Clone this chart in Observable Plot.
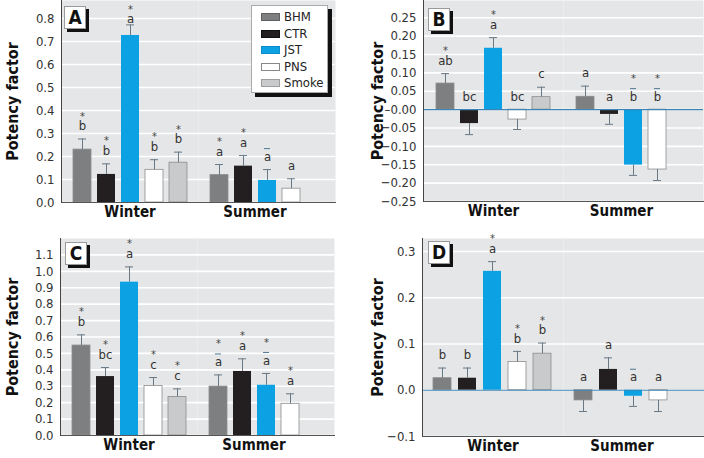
<!DOCTYPE html>
<html><head><meta charset="utf-8">
<script src="https://cdn.jsdelivr.net/npm/d3@7"></script>
<script src="https://cdn.jsdelivr.net/npm/@observablehq/plot@0.6"></script>
<style>
body{margin:0;background:#fff;}
#fig{position:relative;width:704px;height:458px;font-family:"Liberation Sans Narrow","Arial Narrow","DejaVu Sans Condensed",sans-serif;}
.panel{position:absolute;}
.tag{position:absolute;width:20px;height:21px;background:#fff;border:1px solid #9a9a9a;box-shadow:3px 3px 0 #111;font-weight:bold;font-size:19px;text-align:center;line-height:21px;color:#111;}
.legend{position:absolute;background:#fff;border:1px solid #aaa;box-shadow:4px 4px 0 #111;}
.legend .row{position:absolute;left:0;height:14px;font-size:13px;color:#222;}
.legend .sw{position:absolute;left:9px;top:3px;width:19px;height:8px;box-sizing:border-box;}
.legend .lb{position:absolute;left:32px;top:-1px;line-height:16px;}
g[aria-label="y-axis label"] text{font-weight:bold;font-size:16px;fill:#111;}
</style>
</head><body>
<div id="fig"></div>
<script>
const types = ["BHM", "CTR", "JST", "PNS", "Smoke"];
const seasons = ["Winter", "Summer"];
const colors = ["#7e7f81", "#231f20", "#0ba1e2", "#ffffff", "#c9cacc"];

// Panel A
const aWinter = [0.23, 0.122, 0.726, 0.142, 0.173];
const aWinterErr = [0.046, 0.046, 0.046, 0.044, 0.046];
const aWinterLbl = ["*b", "*b", "*a", "*b", "*b"];
const aSummer = [0.119, 0.158, 0.096, 0.06, null];
const aSummerErr = [0.046, 0.046, 0.047, 0.043, null];
const aSummerLbl = ["*a", "*a", "‾a", "a", ""];
const aTicks = [0, 0.1, 0.2, 0.3, 0.4, 0.5, 0.6, 0.7, 0.8];

// Panel B
const bWinter = [0.071, -0.038, 0.167, -0.027, 0.034];
const bWinterErr = [0.027, 0.030, 0.029, 0.027, 0.027];
const bWinterLbl = ["*ab", "bc", "*a", "bc", "c"];
const bSummer = [0.035, -0.013, -0.151, -0.163, null];
const bSummerErr = [0.029, 0.027, 0.028, 0.030, null];
const bSummerLbl = ["a", "a", "*‾b", "*‾b", ""];
const bTicks = [-0.25, -0.2, -0.15, -0.1, -0.05, 0, 0.05, 0.1, 0.15, 0.2, 0.25];

// Panel C
const cWinter = [0.548, 0.359, 0.934, 0.302, 0.235];
const cWinterErr = [0.065, 0.055, 0.093, 0.051, 0.049];
const cWinterLbl = ["*b", "*bc", "*a", "*c", "*c"];
const cSummer = [0.298, 0.39, 0.306, 0.193, null];
const cSummerErr = [0.071, 0.077, 0.072, 0.061, null];
const cSummerLbl = ["*‾a", "*a", "*‾a", "*a", ""];
const cTicks = [0, 0.1, 0.2, 0.3, 0.4, 0.5, 0.6, 0.7, 0.8, 0.9, 1.0, 1.1];

// Panel D
const dWinter = [0.026, 0.026, 0.257, 0.061, 0.079];
const dWinterErr = [0.022, 0.022, 0.021, 0.023, 0.023];
const dWinterLbl = ["b", "b", "*a", "*b", "*b"];
const dSummer = [-0.022, 0.045, -0.013, -0.022, null];
const dSummerErr = [0.024, 0.025, 0.022, 0.024, null];
const dSummerLbl = ["a", "a", "‾a", "a", ""];
const dTicks = [-0.1, 0, 0.1, 0.2, 0.3];

const FONT = '"Liberation Sans Narrow","Arial Narrow","DejaVu Sans Condensed",sans-serif';
const minus = s => s.replace("-", "\u2013");

function makeRows(w, we, wl, s, se, sl, top) {
  const rows = [];
  [[w, we, wl, "Winter"], [s, se, sl, "Summer"]].forEach(([vals, errs, lbls, season]) => {
    types.forEach((t, i) => {
      if (vals[i] == null) return;
      const v = vals[i], e = errs[i], l = lbls[i];
      const end = v >= 0 ? v + e : v - e;
      rows.push({season, type: t, value: v, end, anchor: Math.min(v >= 0 ? end : 0, top),
        star: l.includes("*"), bar: l.includes("‾"), letter: l.replace(/[*‾]/g, "")});
    });
  });
  return rows;
}

function panel(cfg) {
  const rows = makeRows(...cfg.data, cfg.labelTop);
  const fx = {fx: "season", x: "type"};
  const marks = [
    Plot.frame({fill: "#e5e6e7", stroke: "none"}),
    Plot.gridY(cfg.ticks, {stroke: "#fff", strokeOpacity: 1, strokeWidth: 1.6}),
    Plot.axisY(cfg.ticks, {tickSize: 0, tickPadding: 7, tickFormat: cfg.fmt, fontSize: 13, fill: "#333",
      label: "Potency factor", labelAnchor: "center", labelOffset: cfg.lo, labelArrow: "none"}),
    Plot.barY(rows, {...fx, y: "value", fill: "type"}),
    Plot.barY(rows.filter(d => d.type !== "JST" && d.type !== "CTR"), {...fx, y: "value", fill: "none", stroke: "#8c8c8c", strokeWidth: 0.8}),
    Plot.ruleX(rows, {...fx, y1: "value", y2: "end", stroke: "#687885", strokeWidth: 1}),
    Plot.tickY(rows, {...fx, y: "end", stroke: "#687885", strokeWidth: 1, insetLeft: 5, insetRight: 5}),
  ];
  if (cfg.zero) marks.push(Plot.ruleY([0], {stroke: "#3b84b4", strokeWidth: 1.2}));
  marks.push(
    Plot.frame({anchor: "bottom", stroke: "#555"}),
    Plot.frame({anchor: "left", stroke: "#444", fx: () => "Winter"}),
    Plot.text(rows, {...fx, y: "anchor", text: "letter", dy: -13, fontSize: 13, fill: "#333"}),
    Plot.tickY(rows.filter(d => d.bar), {...fx, y: "anchor", dy: -21, stroke: "#4f7896", strokeWidth: 1, insetLeft: 6, insetRight: 6}),
    Plot.text(rows.filter(d => d.star && !d.bar), {...fx, y: "anchor", text: () => "*", dy: -23, fontSize: 11, fill: "#444"}),
    Plot.text(rows.filter(d => d.star && d.bar), {...fx, y: "anchor", text: () => "*", dy: -31, fontSize: 11, fill: "#444"}),
    Plot.text(["Winter"], {fx: d => d, frameAnchor: "bottom", dy: 14, fontSize: 15, fontWeight: "bold", fill: "#111"}),
    Plot.text(["Summer"], {fx: d => d, frameAnchor: "bottom", dy: 14, dx: -12, fontSize: 15, fontWeight: "bold", fill: "#111"})
  );
  const svg = Plot.plot({
    width: cfg.w, height: cfg.h,
    marginTop: cfg.mt, marginBottom: cfg.mb, marginLeft: cfg.ml, marginRight: cfg.mr,
    style: {fontFamily: FONT, fontSize: "13px", background: "transparent", overflow: "visible"},
    fx: {domain: seasons, padding: 0, axis: null},
    x: {domain: types, paddingInner: 0.265, paddingOuter: 0.44, axis: null},
    y: {domain: cfg.domain},
    color: {domain: types, range: colors},
    marks
  });
  const div = document.createElement("div");
  div.className = "panel";
  div.style.left = cfg.left + "px";
  div.style.top = cfg.top + "px";
  div.appendChild(svg);
  document.getElementById("fig").appendChild(div);
}

panel({data: [aWinter, aWinterErr, aWinterLbl, aSummer, aSummerErr, aSummerLbl], ticks: aTicks, labelTop: 0.74,
  fmt: d3.format(".1f"), domain: [0, 0.878], left: 0, top: 0, w: 350, h: 225, ml: 60, mr: 15, mt: 0, mb: 23, lo: 55, zero: false});
panel({data: [bWinter, bWinterErr, bWinterLbl, bSummer, bSummerErr, bSummerLbl], ticks: bTicks, labelTop: 1,
  fmt: d => d === 0 ? "\u20130.00" : minus(d3.format(".2f")(d)), domain: [-0.25, 0.297], left: 350, top: 0, w: 354, h: 225, ml: 73, mr: 1, mt: 0, mb: 24, lo: 52, zero: true});
panel({data: [cWinter, cWinterErr, cWinterLbl, cSummer, cSummerErr, cSummerLbl], ticks: cTicks, labelTop: 2,
  fmt: d3.format(".1f"), domain: [0, 1.2], left: 0, top: 225, w: 350, h: 233, ml: 59, mr: 16, mt: 13, mb: 23, lo: 54, zero: false});
panel({data: [dWinter, dWinterErr, dWinterLbl, dSummer, dSummerErr, dSummerLbl], ticks: dTicks, labelTop: 1,
  fmt: d => minus(d3.format(".1f")(d)), domain: [-0.1, 0.328], left: 350, top: 225, w: 354, h: 233, ml: 72, mr: 0, mt: 13, mb: 22, lo: 51, zero: true});

// panel tags
const fig = document.getElementById("fig");
[["A", 64, 6], ["B", 428, 8], ["C", 65, 242], ["D", 428, 241]].forEach(([t, x, y]) => {
  const el = document.createElement("div");
  el.className = "tag"; el.textContent = t;
  el.style.left = x + "px"; el.style.top = y + "px";
  fig.appendChild(el);
});

// legend
const lg = document.createElement("div");
lg.className = "legend";
Object.assign(lg.style, {left: "251px", top: "5px", width: "75px", height: "86px"});
const borders = ["#5f6062", "#111", "#0a8fca", "#888", "#9c9d9f"];
types.forEach((t, i) => {
  const r = document.createElement("div");
  r.className = "row";
  r.style.top = (4 + i * 16.6) + "px";
  const sw = document.createElement("div");
  sw.className = "sw";
  sw.style.background = colors[i];
  sw.style.border = "1px solid " + borders[i];
  const lb = document.createElement("div");
  lb.className = "lb"; lb.textContent = t;
  r.appendChild(sw); r.appendChild(lb);
  lg.appendChild(r);
});
fig.appendChild(lg);
</script>
</body></html>
